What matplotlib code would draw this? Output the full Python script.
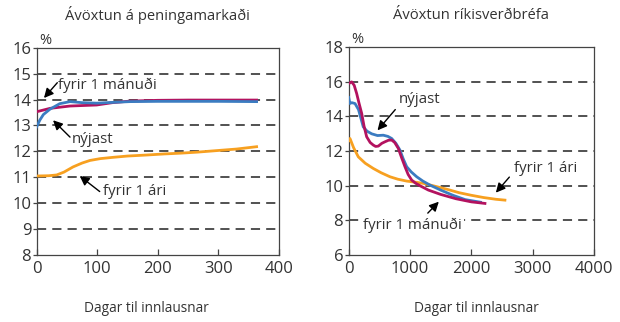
import numpy as np
import matplotlib
matplotlib.use('Agg')
import matplotlib.pyplot as plt

plt.rcParams['font.family'] = ['Open Sans', 'DejaVu Sans']
plt.rcParams['text.color'] = '#333333'

# peningamarkaður (dagar, %)
pm_nyjast_x = [0, 5, 11, 22, 38, 55, 75, 99, 125, 154, 200, 250, 300, 363]
pm_nyjast_y = [12.95, 13.2, 13.42, 13.63, 13.84, 13.92, 13.88, 13.86, 13.89, 13.92, 13.93, 13.93, 13.93, 13.92]
pm_manudur_x = [0, 22, 55, 99, 125, 154, 200, 250, 300, 363]
pm_manudur_y = [13.53, 13.66, 13.75, 13.79, 13.88, 13.94, 13.97, 13.98, 13.98, 13.98]
pm_ar_x = [0, 20, 33, 45, 60, 75, 88, 105, 126, 150, 182, 210, 237, 265, 292, 330, 363]
pm_ar_y = [11.05, 11.06, 11.09, 11.2, 11.4, 11.55, 11.65, 11.72, 11.77, 11.82, 11.86, 11.9, 11.93, 11.97, 12.02, 12.09, 12.18]

# ríkisverðbréf (dagar, %)
rv_nyjast_x = [0, 20, 50, 103, 160, 238, 300, 375, 470, 564, 640, 701, 770, 836, 890, 946, 1020, 1109, 1210, 1325, 1500, 1700, 1900, 2150]
rv_nyjast_y = [15.1, 14.75, 14.8, 14.75, 14.4, 13.4, 13.15, 13.0, 12.9, 12.92, 12.85, 12.73, 12.45, 12.06, 11.55, 11.1, 10.8, 10.52, 10.27, 10.04, 9.75, 9.45, 9.2, 9.05]
rv_manudur_x = [0, 49, 90, 130, 170, 212, 250, 293, 350, 401, 440, 483, 540, 592, 650, 701, 750, 809, 860, 918, 970, 1027, 1090, 1163, 1300, 1500, 1750, 2000, 2222]
rv_manudur_y = [15.9, 16.0, 15.8, 15.33, 14.75, 14.18, 13.45, 12.83, 12.5, 12.35, 12.27, 12.29, 12.45, 12.54, 12.63, 12.64, 12.5, 12.16, 11.65, 11.1, 10.65, 10.33, 10.15, 10.0, 9.75, 9.5, 9.25, 9.07, 8.98]
rv_ar_x = [0, 21, 80, 157, 270, 401, 530, 673, 800, 946, 1100, 1216, 1400, 1600, 1800, 2000, 2200, 2400, 2548]
rv_ar_y = [12.6, 12.73, 12.2, 11.67, 11.3, 11.0, 10.75, 10.52, 10.38, 10.27, 10.2, 10.14, 9.98, 9.8, 9.6, 9.45, 9.32, 9.22, 9.17]

c_nyjast = '#3b7cc1'
c_manudur = '#b3125f'
c_ar = '#f7a020'

fig = plt.figure(figsize=(6.2, 3.22), dpi=100)
ax1 = fig.add_axes([0.0592, 0.208, 0.3908, 0.6438])
ax2 = fig.add_axes([0.5624, 0.208, 0.3956, 0.6453])

def style(ax, ylim, yticks, xlim, xticks, grid):
    ax.set_xlim(*xlim)
    ax.set_ylim(*ylim)
    ax.set_xticks(xticks)
    ax.set_yticks(yticks)
    for g in grid:
        ax.axhline(g, color='#222222', lw=1.1, ls=(0, (6, 4)), zorder=1)
    for s in ax.spines.values():
        s.set_color('#444444')
        s.set_linewidth(0.9)
    ax.tick_params(axis='x', direction='in', length=4, width=0.9, color='#444444',
                   labelsize=12, labelcolor='#333333', pad=4)
    ax.tick_params(axis='y', direction='out', length=3, width=0.9, color='#444444',
                   labelsize=12, labelcolor='#333333', pad=1)

style(ax1, (8, 16), range(8, 17), (0, 400), [0, 100, 200, 300, 400], range(9, 16))
style(ax2, (6, 18), range(6, 19, 2), (0, 4000), [0, 1000, 2000, 3000, 4000], range(8, 17, 2))

lw = 2.0
ax1.plot(pm_ar_x, pm_ar_y, color=c_ar, lw=lw, zorder=3)
ax1.plot(pm_manudur_x, pm_manudur_y, color=c_manudur, lw=lw, zorder=3)
ax1.plot(pm_nyjast_x, pm_nyjast_y, color=c_nyjast, lw=lw, zorder=4)

ax2.plot(rv_ar_x, rv_ar_y, color=c_ar, lw=lw, zorder=3)
ax2.plot(rv_nyjast_x, rv_nyjast_y, color=c_nyjast, lw=lw, zorder=3)
ax2.plot(rv_manudur_x, rv_manudur_y, color=c_manudur, lw=lw, zorder=4)

ax1.set_title('Ávöxtun á peningamarkaði', fontsize=10.6, color='#333333', pad=20)
ax2.set_title('Ávöxtun ríkisverðbréfa', fontsize=10.6, color='#333333', pad=20)
ax1.text(0.01, 1.02, '%', transform=ax1.transAxes, fontsize=10.5, color='#333333')
ax2.text(0.01, 1.02, '%', transform=ax2.transAxes, fontsize=10.5, color='#333333')
fig.text(146 / 620, 1 - 309 / 322, 'Dagar til innlausnar', ha='center', va='center',
         fontsize=9.8, color='#333333')
fig.text(476 / 620, 1 - 309 / 322, 'Dagar til innlausnar', ha='center', va='center',
         fontsize=9.8, color='#333333')

arrow = dict(arrowstyle='-|>', color='black', lw=1.0, mutation_scale=14, shrinkA=0, shrinkB=0)
txt = dict(fontsize=10.8, color='#333333', va='center')
# hvítur bakgrunnur svo línurnar fari ekki í gegnum textann
bg = dict(facecolor='white', edgecolor='none', pad=1.5)

ax1.annotate('', xy=(12, 14.06), xytext=(34, 14.65), arrowprops=arrow)
ax1.text(35, 14.55, 'fyrir 1 mánuði', **txt)
ax1.annotate('', xy=(27, 13.2), xytext=(55, 12.55), arrowprops=arrow)
ax1.text(58, 12.45, 'nýjast', **txt)
ax1.annotate('', xy=(71, 11.05), xytext=(104, 10.45), arrowprops=arrow)
ax1.text(110, 10.45, 'fyrir 1 ári', **txt)

ax2.annotate('', xy=(470, 13.2), xytext=(760, 14.4), arrowprops=arrow)
ax2.text(820, 15.0, 'nýjast', **txt)
ax2.annotate('', xy=(2400, 9.6), xytext=(2620, 10.5), arrowprops=arrow)
ax2.text(2700, 11.0, 'fyrir 1 ári', **txt)
ax2.annotate('', xy=(1470, 9.08), xytext=(1290, 8.42), arrowprops=arrow)
ax2.text(240, 7.72, 'fyrir 1 mánuði', bbox=bg, zorder=5, **txt)

fig.savefig('out.png', dpi=100)
